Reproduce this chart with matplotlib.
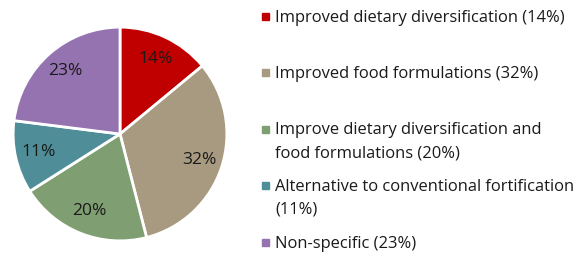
import matplotlib.pyplot as plt
from matplotlib.patches import Rectangle

labels = ["Improved dietary diversification (14%)",
          "Improved food formulations (32%)",
          "Improve dietary diversification and\nfood formulations (20%)",
          "Alternative to conventional fortification\n(11%)",
          "Non-specific (23%)"]
values = [14, 32, 20, 11, 23]
colors = ["#C00000", "#A89A80", "#7F9F72", "#4F8E98", "#9473B0"]

plt.rcParams['font.family'] = ['Open Sans', 'DejaVu Sans']

fig = plt.figure(figsize=(5.79, 2.54), dpi=100)
W, H = 579, 254

# pie: centre (120,134) px, radius 109 px
cx, cy, r = 120, 134, 109
ax = fig.add_axes([(cx - r) / W, (H - cy - r) / H, 2 * r / W, 2 * r / H])
ax.pie(values, colors=colors, startangle=90, counterclock=False,
       autopct=lambda p: "{:.0f}%".format(p), pctdistance=0.78,
       wedgeprops=dict(edgecolor="white", linewidth=2),
       textprops=dict(fontsize=12.5, color="#1a1a1a"))
ax.set_xlim(-1.02, 1.02)
ax.set_ylim(-1.02, 1.02)
ax.set_aspect("equal")
ax.axis("off")

# legend drawn by hand, one text per line so the box sits on the first line
y0 = 16
step = 56.5
for i, (lab, c) in enumerate(zip(labels, colors)):
    y = y0 + i * step
    fig.patches.append(Rectangle((262 / W, (H - y - 3.5) / H), 6.5 / W, 7 / H,
                                 transform=fig.transFigure, color=c, figure=fig))
    for j, line in enumerate(lab.split("\n")):
        fig.text(275 / W, (H - y - 5.5 - 23 * j) / H, line, ha="left",
                 va="baseline", fontsize=11.9, color="#1a1a1a")

fig.savefig("out.png", dpi=100)
